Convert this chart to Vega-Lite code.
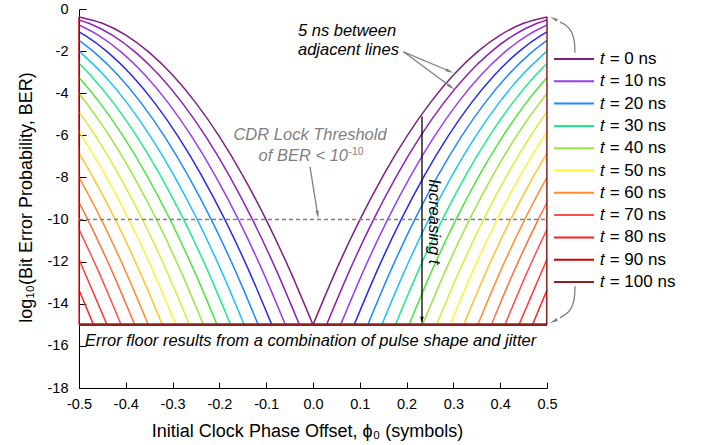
{
  "$schema": "https://vega.github.io/schema/vega-lite/v6.json",
  "width": 468,
  "height": 379,
  "autosize": {"type": "none"},
  "padding": {"left": 79, "top": 9, "right": 155, "bottom": 57},
  "background": "white",
  "config": {"view": {"stroke": null}, "font": "Liberation Sans"},
  "datasets": {
    "curves": [
      {"t":0,"s":"L","x":-0.5,"y":-0.375},{"t":0,"s":"L","x":-0.45,"y":-0.679},{"t":0,"s":"L","x":-0.4,"y":-1.24},{"t":0,"s":"L","x":-0.35,"y":-2.059},{"t":0,"s":"L","x":-0.3,"y":-3.135},{"t":0,"s":"L","x":-0.25,"y":-4.469},{"t":0,"s":"L","x":-0.2,"y":-6.06},{"t":0,"s":"L","x":-0.15,"y":-7.909},{"t":0,"s":"L","x":-0.1,"y":-10.015},{"t":0,"s":"L","x":-0.05,"y":-12.379},{"t":0,"s":"L","x":0,"y":-15},
      {"t":0,"s":"R","x":0,"y":-15},{"t":0,"s":"R","x":0.05,"y":-12.379},{"t":0,"s":"R","x":0.1,"y":-10.015},{"t":0,"s":"R","x":0.15,"y":-7.909},{"t":0,"s":"R","x":0.2,"y":-6.06},{"t":0,"s":"R","x":0.25,"y":-4.469},{"t":0,"s":"R","x":0.3,"y":-3.135},{"t":0,"s":"R","x":0.35,"y":-2.059},{"t":0,"s":"R","x":0.4,"y":-1.24},{"t":0,"s":"R","x":0.45,"y":-0.679},{"t":0,"s":"R","x":0.5,"y":-0.375},
      {"t":5,"s":"L","x":-0.5,"y":-0.52},{"t":5,"s":"L","x":-0.479,"y":-0.679},{"t":5,"s":"L","x":-0.429,"y":-1.24},{"t":5,"s":"L","x":-0.379,"y":-2.059},{"t":5,"s":"L","x":-0.329,"y":-3.135},{"t":5,"s":"L","x":-0.279,"y":-4.469},{"t":5,"s":"L","x":-0.229,"y":-6.06},{"t":5,"s":"L","x":-0.179,"y":-7.909},{"t":5,"s":"L","x":-0.129,"y":-10.015},{"t":5,"s":"L","x":-0.079,"y":-12.379},{"t":5,"s":"L","x":-0.029,"y":-15},
      {"t":5,"s":"R","x":0.029,"y":-15},{"t":5,"s":"R","x":0.079,"y":-12.379},{"t":5,"s":"R","x":0.129,"y":-10.015},{"t":5,"s":"R","x":0.179,"y":-7.909},{"t":5,"s":"R","x":0.229,"y":-6.06},{"t":5,"s":"R","x":0.279,"y":-4.469},{"t":5,"s":"R","x":0.329,"y":-3.135},{"t":5,"s":"R","x":0.379,"y":-2.059},{"t":5,"s":"R","x":0.429,"y":-1.24},{"t":5,"s":"R","x":0.479,"y":-0.679},{"t":5,"s":"R","x":0.5,"y":-0.52},
      {"t":10,"s":"L","x":-0.5,"y":-0.761},{"t":10,"s":"L","x":-0.459,"y":-1.24},{"t":10,"s":"L","x":-0.409,"y":-2.059},{"t":10,"s":"L","x":-0.359,"y":-3.135},{"t":10,"s":"L","x":-0.309,"y":-4.469},{"t":10,"s":"L","x":-0.259,"y":-6.06},{"t":10,"s":"L","x":-0.209,"y":-7.909},{"t":10,"s":"L","x":-0.159,"y":-10.015},{"t":10,"s":"L","x":-0.109,"y":-12.379},{"t":10,"s":"L","x":-0.059,"y":-15},
      {"t":10,"s":"R","x":0.059,"y":-15},{"t":10,"s":"R","x":0.109,"y":-12.379},{"t":10,"s":"R","x":0.159,"y":-10.015},{"t":10,"s":"R","x":0.209,"y":-7.909},{"t":10,"s":"R","x":0.259,"y":-6.06},{"t":10,"s":"R","x":0.309,"y":-4.469},{"t":10,"s":"R","x":0.359,"y":-3.135},{"t":10,"s":"R","x":0.409,"y":-2.059},{"t":10,"s":"R","x":0.459,"y":-1.24},{"t":10,"s":"R","x":0.5,"y":-0.761},
      {"t":15,"s":"L","x":-0.5,"y":-1.082},{"t":15,"s":"L","x":-0.488,"y":-1.24},{"t":15,"s":"L","x":-0.438,"y":-2.059},{"t":15,"s":"L","x":-0.388,"y":-3.135},{"t":15,"s":"L","x":-0.338,"y":-4.469},{"t":15,"s":"L","x":-0.288,"y":-6.06},{"t":15,"s":"L","x":-0.238,"y":-7.909},{"t":15,"s":"L","x":-0.188,"y":-10.015},{"t":15,"s":"L","x":-0.138,"y":-12.379},{"t":15,"s":"L","x":-0.088,"y":-15},
      {"t":15,"s":"R","x":0.088,"y":-15},{"t":15,"s":"R","x":0.138,"y":-12.379},{"t":15,"s":"R","x":0.188,"y":-10.015},{"t":15,"s":"R","x":0.238,"y":-7.909},{"t":15,"s":"R","x":0.288,"y":-6.06},{"t":15,"s":"R","x":0.338,"y":-4.469},{"t":15,"s":"R","x":0.388,"y":-3.135},{"t":15,"s":"R","x":0.438,"y":-2.059},{"t":15,"s":"R","x":0.488,"y":-1.24},{"t":15,"s":"R","x":0.5,"y":-1.082},
      {"t":20,"s":"L","x":-0.5,"y":-1.489},{"t":20,"s":"L","x":-0.467,"y":-2.059},{"t":20,"s":"L","x":-0.417,"y":-3.135},{"t":20,"s":"L","x":-0.367,"y":-4.469},{"t":20,"s":"L","x":-0.317,"y":-6.06},{"t":20,"s":"L","x":-0.267,"y":-7.909},{"t":20,"s":"L","x":-0.217,"y":-10.015},{"t":20,"s":"L","x":-0.167,"y":-12.379},{"t":20,"s":"L","x":-0.117,"y":-15},
      {"t":20,"s":"R","x":0.117,"y":-15},{"t":20,"s":"R","x":0.167,"y":-12.379},{"t":20,"s":"R","x":0.217,"y":-10.015},{"t":20,"s":"R","x":0.267,"y":-7.909},{"t":20,"s":"R","x":0.317,"y":-6.06},{"t":20,"s":"R","x":0.367,"y":-4.469},{"t":20,"s":"R","x":0.417,"y":-3.135},{"t":20,"s":"R","x":0.467,"y":-2.059},{"t":20,"s":"R","x":0.5,"y":-1.489},
      {"t":25,"s":"L","x":-0.5,"y":-2.002},{"t":25,"s":"L","x":-0.447,"y":-3.135},{"t":25,"s":"L","x":-0.397,"y":-4.469},{"t":25,"s":"L","x":-0.347,"y":-6.06},{"t":25,"s":"L","x":-0.297,"y":-7.909},{"t":25,"s":"L","x":-0.247,"y":-10.015},{"t":25,"s":"L","x":-0.197,"y":-12.379},{"t":25,"s":"L","x":-0.147,"y":-15},
      {"t":25,"s":"R","x":0.147,"y":-15},{"t":25,"s":"R","x":0.197,"y":-12.379},{"t":25,"s":"R","x":0.247,"y":-10.015},{"t":25,"s":"R","x":0.297,"y":-7.909},{"t":25,"s":"R","x":0.347,"y":-6.06},{"t":25,"s":"R","x":0.397,"y":-4.469},{"t":25,"s":"R","x":0.447,"y":-3.135},{"t":25,"s":"R","x":0.5,"y":-2.002},
      {"t":30,"s":"L","x":-0.5,"y":-2.586},{"t":30,"s":"L","x":-0.476,"y":-3.135},{"t":30,"s":"L","x":-0.426,"y":-4.469},{"t":30,"s":"L","x":-0.376,"y":-6.06},{"t":30,"s":"L","x":-0.326,"y":-7.909},{"t":30,"s":"L","x":-0.276,"y":-10.015},{"t":30,"s":"L","x":-0.226,"y":-12.379},{"t":30,"s":"L","x":-0.176,"y":-15},
      {"t":30,"s":"R","x":0.176,"y":-15},{"t":30,"s":"R","x":0.226,"y":-12.379},{"t":30,"s":"R","x":0.276,"y":-10.015},{"t":30,"s":"R","x":0.326,"y":-7.909},{"t":30,"s":"R","x":0.376,"y":-6.06},{"t":30,"s":"R","x":0.426,"y":-4.469},{"t":30,"s":"R","x":0.476,"y":-3.135},{"t":30,"s":"R","x":0.5,"y":-2.586},
      {"t":35,"s":"L","x":-0.5,"y":-3.257},{"t":35,"s":"L","x":-0.455,"y":-4.469},{"t":35,"s":"L","x":-0.405,"y":-6.06},{"t":35,"s":"L","x":-0.355,"y":-7.909},{"t":35,"s":"L","x":-0.305,"y":-10.015},{"t":35,"s":"L","x":-0.255,"y":-12.379},{"t":35,"s":"L","x":-0.205,"y":-15},
      {"t":35,"s":"R","x":0.205,"y":-15},{"t":35,"s":"R","x":0.255,"y":-12.379},{"t":35,"s":"R","x":0.305,"y":-10.015},{"t":35,"s":"R","x":0.355,"y":-7.909},{"t":35,"s":"R","x":0.405,"y":-6.06},{"t":35,"s":"R","x":0.455,"y":-4.469},{"t":35,"s":"R","x":0.5,"y":-3.257},
      {"t":40,"s":"L","x":-0.5,"y":-4.014},{"t":40,"s":"L","x":-0.484,"y":-4.469},{"t":40,"s":"L","x":-0.434,"y":-6.06},{"t":40,"s":"L","x":-0.384,"y":-7.909},{"t":40,"s":"L","x":-0.334,"y":-10.015},{"t":40,"s":"L","x":-0.284,"y":-12.379},{"t":40,"s":"L","x":-0.234,"y":-15},
      {"t":40,"s":"R","x":0.234,"y":-15},{"t":40,"s":"R","x":0.284,"y":-12.379},{"t":40,"s":"R","x":0.334,"y":-10.015},{"t":40,"s":"R","x":0.384,"y":-7.909},{"t":40,"s":"R","x":0.434,"y":-6.06},{"t":40,"s":"R","x":0.484,"y":-4.469},{"t":40,"s":"R","x":0.5,"y":-4.014},
      {"t":45,"s":"L","x":-0.5,"y":-4.888},{"t":45,"s":"L","x":-0.464,"y":-6.06},{"t":45,"s":"L","x":-0.414,"y":-7.909},{"t":45,"s":"L","x":-0.364,"y":-10.015},{"t":45,"s":"L","x":-0.314,"y":-12.379},{"t":45,"s":"L","x":-0.264,"y":-15},
      {"t":45,"s":"R","x":0.264,"y":-15},{"t":45,"s":"R","x":0.314,"y":-12.379},{"t":45,"s":"R","x":0.364,"y":-10.015},{"t":45,"s":"R","x":0.414,"y":-7.909},{"t":45,"s":"R","x":0.464,"y":-6.06},{"t":45,"s":"R","x":0.5,"y":-4.888},
      {"t":50,"s":"L","x":-0.5,"y":-5.822},{"t":50,"s":"L","x":-0.443,"y":-7.909},{"t":50,"s":"L","x":-0.393,"y":-10.015},{"t":50,"s":"L","x":-0.343,"y":-12.379},{"t":50,"s":"L","x":-0.293,"y":-15},
      {"t":50,"s":"R","x":0.293,"y":-15},{"t":50,"s":"R","x":0.343,"y":-12.379},{"t":50,"s":"R","x":0.393,"y":-10.015},{"t":50,"s":"R","x":0.443,"y":-7.909},{"t":50,"s":"R","x":0.5,"y":-5.822},
      {"t":55,"s":"L","x":-0.5,"y":-6.842},{"t":55,"s":"L","x":-0.472,"y":-7.909},{"t":55,"s":"L","x":-0.422,"y":-10.015},{"t":55,"s":"L","x":-0.372,"y":-12.379},{"t":55,"s":"L","x":-0.322,"y":-15},
      {"t":55,"s":"R","x":0.322,"y":-15},{"t":55,"s":"R","x":0.372,"y":-12.379},{"t":55,"s":"R","x":0.422,"y":-10.015},{"t":55,"s":"R","x":0.472,"y":-7.909},{"t":55,"s":"R","x":0.5,"y":-6.842},
      {"t":60,"s":"L","x":-0.5,"y":-7.988},{"t":60,"s":"L","x":-0.452,"y":-10.015},{"t":60,"s":"L","x":-0.402,"y":-12.379},{"t":60,"s":"L","x":-0.352,"y":-15},
      {"t":60,"s":"R","x":0.352,"y":-15},{"t":60,"s":"R","x":0.402,"y":-12.379},{"t":60,"s":"R","x":0.452,"y":-10.015},{"t":60,"s":"R","x":0.5,"y":-7.988},
      {"t":65,"s":"L","x":-0.5,"y":-9.184},{"t":65,"s":"L","x":-0.481,"y":-10.015},{"t":65,"s":"L","x":-0.431,"y":-12.379},{"t":65,"s":"L","x":-0.381,"y":-15},
      {"t":65,"s":"R","x":0.381,"y":-15},{"t":65,"s":"R","x":0.431,"y":-12.379},{"t":65,"s":"R","x":0.481,"y":-10.015},{"t":65,"s":"R","x":0.5,"y":-9.184},
      {"t":70,"s":"L","x":-0.5,"y":-10.467},{"t":70,"s":"L","x":-0.46,"y":-12.379},{"t":70,"s":"L","x":-0.41,"y":-15},
      {"t":70,"s":"R","x":0.41,"y":-15},{"t":70,"s":"R","x":0.46,"y":-12.379},{"t":70,"s":"R","x":0.5,"y":-10.467},
      {"t":75,"s":"L","x":-0.5,"y":-11.885},{"t":75,"s":"L","x":-0.44,"y":-15},
      {"t":75,"s":"R","x":0.44,"y":-15},{"t":75,"s":"R","x":0.5,"y":-11.885},
      {"t":80,"s":"L","x":-0.5,"y":-13.344},{"t":80,"s":"L","x":-0.469,"y":-15},
      {"t":80,"s":"R","x":0.469,"y":-15},{"t":80,"s":"R","x":0.5,"y":-13.344},
      {"t":85,"s":"L","x":-0.5,"y":-14.89},{"t":85,"s":"L","x":-0.498,"y":-15},
      {"t":85,"s":"R","x":0.498,"y":-15},{"t":85,"s":"R","x":0.5,"y":-14.89},
      {"t":90,"s":"L","x":-0.5,"y":-0.375},{"t":90,"s":"L","x":-0.4995,"y":-15},
      {"t":95,"s":"F","x":-0.5,"y":-15},{"t":95,"s":"F","x":0.5,"y":-15},
      {"t":100,"s":"F","x":-0.5,"y":-15},{"t":100,"s":"F","x":0.5,"y":-15},
      {"t":100,"s":"R","x":0.4995,"y":-15},{"t":100,"s":"R","x":0.5,"y":-0.375}
    ]
  },
  "encoding": {
    "x": {"type": "quantitative", "scale": {"domain": [-0.5, 0.5], "nice": false, "zero": false}},
    "y": {"type": "quantitative", "scale": {"domain": [-18, 0], "nice": false, "zero": false}}
  },
  "layer": [
    {
      "data": {"name": "curves"},
      "mark": {"type": "line", "interpolate": "monotone"},
      "encoding": {
        "x": {"field": "x", "type": "quantitative",
          "axis": {"title": "Initial Clock Phase Offset,  ϕ₀ (symbols)", "values": [-0.5,-0.45,-0.4,-0.35,-0.3,-0.25,-0.2,-0.15,-0.1,-0.05,0,0.05,0.1,0.15,0.2,0.25,0.3,0.35,0.4,0.45,0.5],
            "labelExpr": "abs(round(datum.value*20)) % 2 == 1 ? '' : (round(datum.value*10) == 0 ? '0.0' : toString(round(datum.value*10)/10))",
            "tickSize": {"condition": {"test": "abs(round(datum.value*20)) % 2 == 1", "value": -3.5}, "value": -6},
            "labelPadding": 15, "labelFlush": false, "labelOverlap": false, "grid": false,
            "domainColor": "black", "tickColor": "black", "labelColor": "black", "labelFontSize": 14.5, "labelFont": "Liberation Sans",
            "titleFont": "Liberation Sans", "titleFontSize": 18, "titleFontWeight": "normal", "titleColor": "black", "titlePadding": 12, "titleX": 228}},
        "y": {"field": "y", "type": "quantitative",
          "axis": {"title": "log₁₀(Bit Error Probability, BER)", "values": [-18,-17,-16,-15,-14,-13,-12,-11,-10,-9,-8,-7,-6,-5,-4,-3,-2,-1,0],
            "labelExpr": "abs(datum.value) % 2 == 1 ? '' : toString(datum.value)",
            "tickSize": {"condition": {"test": "abs(datum.value) % 2 == 1", "value": -3.5}, "value": -7},
            "labelPadding": 18, "labelOverlap": false, "grid": false,
            "domainColor": "black", "tickColor": "black", "labelColor": "black", "labelFontSize": 14.5, "labelFont": "Liberation Sans",
            "titleFont": "Liberation Sans", "titleFontSize": 18, "titleFontWeight": "normal", "titleColor": "black", "titlePadding": 12, "titleY": 188}},
        "detail": {"field": "s", "type": "nominal"},
        "strokeWidth": {"condition": {"test": "datum.s == 'F'", "value": 2.5}, "value": 1.5},
        "color": {"field": "t", "type": "ordinal",
          "scale": {"domain": [0,5,10,15,20,25,30,35,40,45,50,55,60,65,70,75,80,85,90,95,100],
            "range": ["#7E1F80","#8E20B8","#9A3CF2","#2828F0","#1E88FF","#1EC0FF","#1EEB8C","#4CE63C","#9BE640","#D4EE3A","#FFF03A","#FFC430","#FF8C30","#FF6E3C","#FF5050","#FF3838","#FF2020","#E61010","#CC0000","#B01A1A","#902020"]},
          "legend": {"title": null, "orient": "none", "legendX": 486, "legendY": 41, "values": [0,10,20,30,40,50,60,70,80,90,100],
            "symbolType": "M-2.5,0H2.5", "symbolSize": 256, "symbolStrokeWidth": 2, "labelOffset": 17, "rowPadding": 5.3,
            "labelExpr": "'𝑡 = ' + datum.label + ' ns'", "labelFontSize": 17, "labelFont": "Liberation Sans", "labelColor": "black", "labelLimit": 0, "padding": 0}}
      }
    },
    {
      "data": {"values": [{}]},
      "mark": {"type": "rule", "color": "#7F7F7F", "strokeWidth": 1.5, "strokeDash": [4, 3]},
      "encoding": {"x": {"datum": -0.5}, "x2": {"datum": 0.5}, "y": {"datum": -10}}
    },
    {
      "data": {"values": [{}]},
      "mark": {"type": "text", "text": ["5 ns between", "adjacent lines"], "fontStyle": "italic", "fontSize": 16.5, "align": "left", "baseline": "alphabetic", "lineHeight": 19, "color": "black"},
      "encoding": {"x": {"datum": -0.0321}, "y": {"datum": -1.288}}
    },
    {
      "data": {"values": [{}]},
      "mark": {"type": "rule", "color": "#808080", "strokeWidth": 1.3},
      "encoding": {"x": {"datum": 0.1934}, "y": {"datum": -2.034}, "x2": {"datum": 0.2919}, "y2": {"datum": -2.956}}
    },
    {
      "data": {"values": [{}]},
      "mark": {"type": "rule", "color": "#808080", "strokeWidth": 1.3},
      "encoding": {"x": {"datum": 0.1934}, "y": {"datum": -2.034}, "x2": {"datum": 0.2951}, "y2": {"datum": -3.707}}
    },
    {
      "data": {"values": [{}]},
      "mark": {"type": "point", "shape": "M0,-1L0.4,1L-0.4,1Z", "filled": true, "size": 64, "angle": 112.9, "color": "#808080", "opacity": 1},
      "encoding": {"x": {"datum": 0.2919}, "y": {"datum": -2.956}}
    },
    {
      "data": {"values": [{}]},
      "mark": {"type": "point", "shape": "M0,-1L0.4,1L-0.4,1Z", "filled": true, "size": 64, "angle": 126.4, "color": "#808080", "opacity": 1},
      "encoding": {"x": {"datum": 0.2951}, "y": {"datum": -3.707}}
    },
    {
      "data": {"values": [{}]},
      "mark": {"type": "text", "text": "CDR Lock Threshold", "fontStyle": "italic", "fontSize": 16.5, "align": "center", "baseline": "alphabetic", "color": "#7F7F7F"},
      "encoding": {"x": {"datum": -0.0064}, "y": {"datum": -6.231}}
    },
    {
      "data": {"values": [{}]},
      "mark": {"type": "text", "text": "of BER < 10", "fontStyle": "italic", "fontSize": 16.5, "align": "right", "baseline": "alphabetic", "color": "#7F7F7F"},
      "encoding": {"x": {"datum": 0.0748}, "y": {"datum": -7.215}}
    },
    {
      "data": {"values": [{}]},
      "mark": {"type": "text", "text": "-10", "fontSize": 10.5, "align": "left", "baseline": "alphabetic", "color": "#7F7F7F"},
      "encoding": {"x": {"datum": 0.0759}, "y": {"datum": -6.944}}
    },
    {
      "data": {"values": [{}]},
      "mark": {"type": "rule", "color": "#808080", "strokeWidth": 1.3},
      "encoding": {"x": {"datum": -0.0064}, "y": {"datum": -7.5}, "x2": {"datum": 0.0100}, "y2": {"datum": -9.767}}
    },
    {
      "data": {"values": [{}]},
      "mark": {"type": "point", "shape": "M0,-1L0.4,1L-0.4,1Z", "filled": true, "size": 64, "angle": 170.9, "color": "#808080", "opacity": 1},
      "encoding": {"x": {"datum": 0.0100}, "y": {"datum": -9.767}}
    },
    {
      "data": {"values": [{}]},
      "mark": {"type": "rule", "color": "black", "strokeWidth": 1.3},
      "encoding": {"x": {"datum": 0.2329}, "y": {"datum": -5.1}, "y2": {"datum": -14.8}}
    },
    {
      "data": {"values": [{}]},
      "mark": {"type": "point", "shape": "M0,-1L0.4,1L-0.4,1Z", "filled": true, "size": 64, "angle": 180, "color": "black", "opacity": 1},
      "encoding": {"x": {"datum": 0.2329}, "y": {"datum": -14.81}}
    },
    {
      "data": {"values": [{}]},
      "mark": {"type": "text", "text": "Increasing t", "fontStyle": "italic", "fontSize": 16.5, "align": "center", "baseline": "middle", "angle": 90, "color": "black"},
      "encoding": {"x": {"datum": 0.2585}, "y": {"datum": -10.1}}
    },
    {
      "data": {"values": [{}]},
      "mark": {"type": "text", "text": "Error floor results from a combination of pulse shape and jitter", "fontStyle": "italic", "fontSize": 16.5, "align": "left", "baseline": "alphabetic", "color": "black"},
      "encoding": {"x": {"datum": -0.4872}, "y": {"datum": -16.02}}
    },
    {
      "data": {"values": [{"cx": 0.5598, "cy": -2.082}, {"cx": 0.5590, "cy": -1.668}, {"cx": 0.5556, "cy": -1.288}, {"cx": 0.5491, "cy": -0.979}, {"cx": 0.5395, "cy": -0.765}, {"cx": 0.5278, "cy": -0.623}]},
      "mark": {"type": "line", "color": "#808080", "strokeWidth": 1.3, "interpolate": "monotone"},
      "encoding": {"x": {"field": "cx", "type": "quantitative"}, "y": {"field": "cy", "type": "quantitative"}}
    },
    {
      "data": {"values": [{}]},
      "mark": {"type": "point", "shape": "M0,-1L0.4,1L-0.4,1Z", "filled": true, "size": 64, "angle": 296.6, "color": "#808080", "opacity": 1},
      "encoding": {"x": {"datum": 0.5141}, "y": {"datum": -0.456}}
    },
    {
      "data": {"values": [{"cx": 0.5598, "cy": -13.17}, {"cx": 0.5590, "cy": -13.6}, {"cx": 0.5556, "cy": -13.98}, {"cx": 0.5491, "cy": -14.29}, {"cx": 0.5395, "cy": -14.50}, {"cx": 0.5278, "cy": -14.67}]},
      "mark": {"type": "line", "color": "#808080", "strokeWidth": 1.3, "interpolate": "monotone"},
      "encoding": {"x": {"field": "cx", "type": "quantitative"}, "y": {"field": "cy", "type": "quantitative"}}
    },
    {
      "data": {"values": [{}]},
      "mark": {"type": "point", "shape": "M0,-1L0.4,1L-0.4,1Z", "filled": true, "size": 64, "angle": 243.4, "color": "#808080", "opacity": 1},
      "encoding": {"x": {"datum": 0.5141}, "y": {"datum": -14.83}}
    }
  ]
}
